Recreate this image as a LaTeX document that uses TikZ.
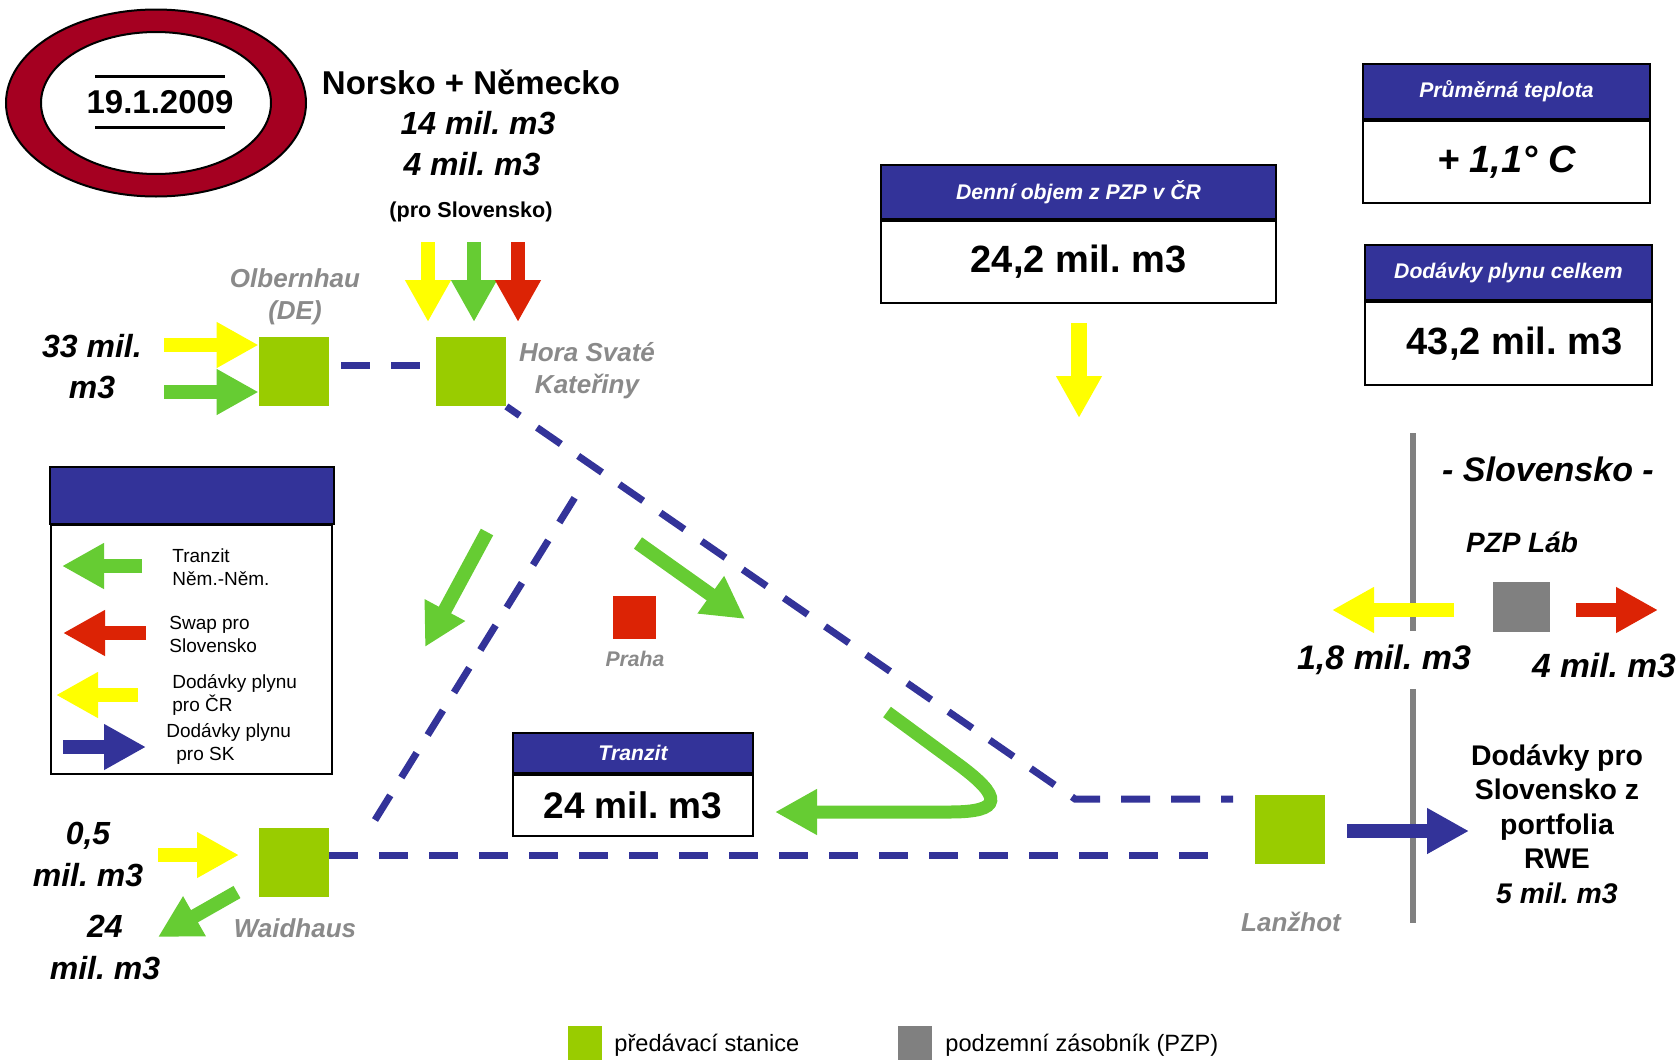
\documentclass[tikz,border=0pt]{standalone}
\usepackage{fontspec}
\setmainfont{Liberation Sans}
\usetikzlibrary{arrows.meta}
\definecolor{dred}{HTML}{A50021}
\definecolor{navy}{HTML}{333399}
\definecolor{stgreen}{HTML}{99CC00}
\definecolor{agreen}{HTML}{66CC33}
\definecolor{ayellow}{HTML}{FFFF00}
\definecolor{ared}{HTML}{DC2305}
\definecolor{pzpgray}{HTML}{808080}
\definecolor{lblgray}{HTML}{8A8A8A}
\newcommand{\myfs}[2]{\fontsize{#1pt}{#2pt}\selectfont}
\tikzset{
  station/.style={fill=stgreen, minimum width=35pt, minimum height=34.5pt, inner sep=0pt},
  dashline/.style={draw=navy, line width=3.5pt, dash pattern=on 14.5pt off 10.5pt},
  barrow/.style={line width=7pt, -{Triangle[width=21.5pt,length=21pt]}},
  txt/.style={inner sep=0pt, align=center},
  lbl/.style={txt, text=lblgray, font=\myfs{13}{16}\bfseries\itshape},
  num/.style={txt, font=\myfs{16}{20.5}\bfseries\itshape},
  hdr/.style={draw=black, line width=1pt, fill=navy, text=white, inner sep=0pt, font=\myfs{10.6}{12}\bfseries\itshape},
  bodybox/.style={draw=black, line width=1pt, fill=white, inner sep=0pt, font=\myfs{19}{22}\bfseries},
  legtxt/.style={inner sep=0pt, anchor=west, align=left, font=\myfs{9.5}{11.5}},
  sqleg/.style={minimum size=17pt, inner sep=0pt}
}
\begin{document}
\frenchspacing
\begin{tikzpicture}[x=0.5pt,y=-0.5pt]
\useasboundingbox (0,0) rectangle (1680,1060);

% ---- date ellipse
\draw[fill=dred, line width=1pt] (156,103) ellipse [x radius=150, y radius=93.5];
\draw[fill=white, line width=1pt] (156,103) ellipse [x radius=115, y radius=71];
\node[txt, font=\myfs{16.5}{19}\bfseries] (date) at (160,102) {19.1.2009};
\draw[line width=1.5pt] (95,76) -- (225,76);
\draw[line width=1.5pt] (95,127) -- (225,127);

% ---- Norsko + Nemecko
\node[txt, font=\myfs{16.5}{19}\bfseries] (norsko) at (471,82) {Norsko + Německo};
\node[num] (n14) at (478,123) {14 mil. m3};
\node[num] (n4) at (472,164) {4 mil. m3};
\node[txt, font=\myfs{10.8}{13}\bfseries] (proSK) at (471,212) {(pro Slovensko)};

% ---- stations
\node[station] (olb) at (294,371.5) {};
\node[station] (hora) at (471,371.5) {};
\node[station] (waid) at (294,862) {};
\node[station] (lanz) at (1290,829) {};
\node[fill=ared, minimum size=21.5pt, inner sep=0pt] (praha) at (634.5,617) {};
\node[fill=pzpgray, minimum width=28.5pt, minimum height=25pt, inner sep=0pt] (lab) at (1521,607) {};

% ---- station labels
\node[lbl] (olbT) at (295,297) {Olbernhau\\(DE)};
\node[lbl] (horaT) at (587,370.5) {Hora Svaté\\Kateřiny};
\node[lbl] (waidT) at (295,928) {Waidhaus};
\node[lbl] (lanzT) at (1291,922) {Lanžhot};
\node[txt, text=lblgray, font=\myfs{10.6}{13}\bfseries\itshape] (prahaT) at (635,659) {Praha};

% ---- dashed pipelines
\coordinate (bend) at (1075,799);
\coordinate (lzend) at (1233,799);
\coordinate (wdend) at (1216,855);
\coordinate (wdA) at (375,820);
\coordinate (wdB) at (577,494);
\draw[dashline, dash phase=19pt] ([yshift=3.25pt]olb.east) -- ([yshift=3.25pt]hora.west);
\draw[dashline, dash phase=6.4pt] (hora.south east) -- (bend) -- (lzend);
\draw[dashline] ([yshift=3.5pt]waid.east) -- (wdend);
\draw[dashline] (wdA) -- (wdB);

% ---- arrows at top
\coordinate (y1a) at (428,242); \coordinate (y1b) at (428,322);
\coordinate (g1a) at (474,242); \coordinate (g1b) at (474,322);
\coordinate (r1a) at (518,242); \coordinate (r1b) at (518,322);
\draw[barrow, draw=ayellow] (y1a) -- (y1b);
\draw[barrow, draw=agreen] (g1a) -- (g1b);
\draw[barrow, draw=ared] (r1a) -- (r1b);

% ---- Olbernhau inputs
\node[num] (n33) at (92,367) {33 mil.\\m3};
\coordinate (oy) at (164,345); \coordinate (og) at (164,392);
\draw[barrow, draw=ayellow] (oy) -- (olb.west |- oy);
\draw[barrow, draw=agreen] (og) -- (olb.west |- og);

% ---- Waidhaus
\node[num, font=\myfs{16}{21}\bfseries\itshape] (n05) at (88,854) {0,5\\mil. m3};
\node[num, font=\myfs{16}{21}\bfseries\itshape] (n24) at (105,947) {24\\mil. m3};
\coordinate (wy) at (158,855); \coordinate (wyb) at (239,855);
\draw[barrow, draw=ayellow] (wy) -- (wyb);
\coordinate (wga) at (237,892); \coordinate (wgb) at (158,937);
\draw[barrow, draw=agreen] (wga) -- (wgb);

% ---- transit arrows in the middle
\coordinate (m1a) at (487,532); \coordinate (m1b) at (425,647);
\coordinate (m2a) at (638,543); \coordinate (m2b) at (745,619);
\draw[barrow, draw=agreen] (m1a) -- (m1b);
\draw[barrow, draw=agreen] (m2a) -- (m2b);
\coordinate (cA) at (887,712);
\coordinate (cB) at (955,762);
\coordinate (cE) at (950,812);
\coordinate (cF) at (775,812);
\draw[barrow, draw=agreen, line width=6.5pt] (cA) -- (cB) .. controls (1005,798) and (1002,812) .. (cE) -- (cF);

% ---- Tranzit box
\node[hdr, minimum width=120pt, minimum height=20pt] (trH) at (633,753) {Tranzit};
\node[bodybox, minimum width=120pt, minimum height=30.5pt, anchor=north, font=\myfs{18.5}{22}\bfseries] (trB) at (trH.south) {24 mil. m3};

% ---- Denni objem box
\node[hdr, minimum width=197.5pt, minimum height=27pt, font=\myfs{10.6}{12}\bfseries\itshape] (denH) at (1078.5,192) {Denní objem z PZP v ČR};
\node[bodybox, minimum width=197.5pt, minimum height=41pt, anchor=north] (denB) at (denH.south) {24,2 mil. m3};
\coordinate (dy) at (1079,323); \coordinate (dyb) at (1079,418);
\draw[barrow, draw=ayellow, line width=8pt] (dy) -- (dyb);

% ---- Prumerna teplota
\node[hdr, minimum width=143.5pt, minimum height=27.5pt] (tpH) at (1506.5,91.5) {Průměrná teplota};
\node[bodybox, minimum width=143.5pt, minimum height=41pt, anchor=north, font=\myfs{19}{22}\bfseries\itshape] (tpB) at (tpH.south) {+ 1,1° C};

% ---- Dodavky celkem
\node[hdr, minimum width=143.5pt, minimum height=27.5pt] (dcH) at (1508.5,272.5) {Dodávky plynu celkem};
\node[bodybox, minimum width=143.5pt, minimum height=41.5pt, anchor=north] (dcB) at (dcH.south) {\hspace{6pt}43,2 mil. m3};

% ---- Slovensko border
\coordinate (gl1) at (1413,433); \coordinate (gl2) at (1413,631);
\coordinate (gl3) at (1413,689); \coordinate (gl4) at (1413,923);
\draw[pzpgray, line width=2.7pt] (gl1) -- (gl2);
\draw[pzpgray, line width=2.7pt] (gl3) -- (gl4);
\node[txt, font=\myfs{17}{20}\bfseries\itshape] (slov) at (1548,469) {- Slovensko -};
\node[txt, font=\myfs{14}{17}\bfseries\itshape] (labT) at (1522,542) {PZP Láb};
\coordinate (ly) at (1454,610); \coordinate (lyb) at (1332,610);
\draw[barrow, draw=ayellow] (ly) -- (lyb);
\coordinate (lr) at (1576,610); \coordinate (lrb) at (1658,610);
\draw[barrow, draw=ared] (lr) -- (lrb);
\node[txt, font=\myfs{17}{20}\bfseries\itshape] (n18) at (1384,660) {1,8 mil. m3};
\node[txt, font=\myfs{16.8}{20}\bfseries\itshape] (n4b) at (1604,665) {4 mil. m3};
\coordinate (bl) at (1347,831); \coordinate (blb) at (1469,831);
\draw[barrow, draw=navy] (bl) -- (blb);
\node[txt, font=\myfs{14.2}{17.3}\bfseries] (rwe) at (1557,824) {Dodávky pro\\Slovensko z\\portfolia\\RWE\\{\itshape 5 mil. m3}};

% ---- legend box
\node[draw=black, line width=1pt, fill=navy, minimum width=142pt, minimum height=28.5pt, inner sep=0pt] (legH) at (192,495.5) {};
\node[draw=black, line width=1pt, fill=white, minimum width=140.5pt, minimum height=124.5pt, inner sep=0pt, anchor=north west] (legB) at (50,524) {};
\coordinate (la1) at (142,566); \coordinate (lb1) at (62,566);
\coordinate (la2) at (146,633); \coordinate (lb2) at (63,633);
\coordinate (la3) at (138,695); \coordinate (lb3) at (56,695);
\coordinate (la4) at (63,747); \coordinate (lb4) at (146,747);
\draw[barrow, draw=agreen] (la1) -- (lb1);
\draw[barrow, draw=ared] (la2) -- (lb2);
\draw[barrow, draw=ayellow] (la3) -- (lb3);
\draw[barrow, draw=navy] (la4) -- (lb4);
\node[legtxt] (lt1) at (172,567) {Tranzit\\Něm.-Něm.};
\node[legtxt] (lt2) at (169,634) {Swap pro\\Slovensko};
\node[legtxt] (lt3) at (172,695) {Dodávky plynu\\pro ČR};
\node[legtxt] (lt4) at (166,744) {Dodávky plynu\\\hspace{5pt}pro SK};

% ---- bottom legend
\node[sqleg, fill=stgreen, anchor=north west] (sq1) at (568,1026) {};
\node[legtxt, font=\myfs{11.8}{14}] (sq1T) at (614,1045) {předávací stanice};
\node[sqleg, fill=pzpgray, anchor=north west] (sq2) at (898,1026) {};
\node[legtxt, font=\myfs{11.8}{14}] (sq2T) at (945,1045) {podzemní zásobník (PZP)};
\end{tikzpicture}
\end{document}
